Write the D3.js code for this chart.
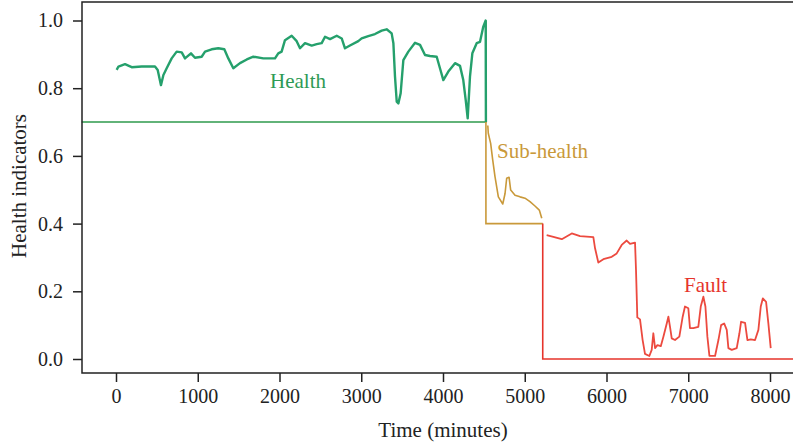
<!DOCTYPE html>
<html>
<head>
<meta charset="utf-8">
<script src="https://cdn.jsdelivr.net/npm/d3@7"></script>
<style>
  html, body { margin: 0; padding: 0; background: #fff; }
  svg { display: block; }
  text { font-family: "Liberation Serif", "Times New Roman", serif; }
</style>
</head>
<body>
<svg id="chart" width="793" height="445"></svg>
<script>
// Health indicator over time (minutes), split into three condition stages
const healthData = [
  [8,0.854],[30,0.864],[110,0.871],[192,0.862],[314,0.864],[477,0.864],[510,0.854],[550,0.809],
  [580,0.839],[620,0.859],[681,0.888],[742,0.908],[804,0.906],[844,0.888],[917,0.903],[966,0.890],
  [1048,0.893],[1089,0.908],[1170,0.915],[1251,0.918],[1325,0.915],[1374,0.888],[1435,0.859],
  [1517,0.874],[1600,0.885],[1680,0.893],[1802,0.888],[1945,0.888],[1985,0.903],[2026,0.908],
  [2067,0.942],[2149,0.955],[2210,0.939],[2251,0.918],[2312,0.933],[2394,0.926],[2455,0.930],
  [2516,0.933],[2557,0.952],[2618,0.945],[2700,0.955],[2761,0.947],[2801,0.918],[2862,0.926],
  [2964,0.939],[3005,0.947],[3086,0.954],[3168,0.960],[3250,0.970],[3311,0.974],[3372,0.962],
  [3393,0.933],[3413,0.834],[3434,0.760],[3454,0.755],[3482,0.785],[3515,0.883],[3576,0.908],
  [3658,0.934],[3719,0.928],[3780,0.898],[3841,0.895],[3923,0.893],[3963,0.859],[4004,0.824],
  [4065,0.849],[4147,0.874],[4208,0.866],[4248,0.824],[4278,0.765],[4302,0.711],[4330,0.834],
  [4359,0.903],[4412,0.933],[4453,0.937],[4493,0.982],[4522,1.0]
];
const subHealthData = [
  [4548,0.690],[4554,0.667],[4583,0.637],[4608,0.588],[4636,0.539],[4677,0.479],[4731,0.458],
  [4759,0.489],[4779,0.534],[4808,0.537],[4828,0.499],[4881,0.484],[4942,0.479],[5003,0.475],
  [5064,0.465],[5125,0.452],[5178,0.440],[5208,0.416]
];
const faultData = [
  [5268,0.366],[5350,0.361],[5453,0.354],[5575,0.371],[5676,0.363],[5839,0.360],[5860,0.327],
  [5900,0.285],[5962,0.295],[6064,0.302],[6125,0.312],[6186,0.337],[6247,0.350],[6288,0.340],
  [6349,0.344],[6361,0.262],[6377,0.123],[6410,0.117],[6442,0.056],[6471,0.015],[6524,0.009],
  [6553,0.027],[6573,0.076],[6594,0.032],[6623,0.041],[6664,0.038],[6696,0.066],[6737,0.105],
  [6757,0.125],[6777,0.095],[6798,0.061],[6838,0.056],[6891,0.066],[6932,0.125],[6960,0.155],
  [7001,0.150],[7021,0.091],[7062,0.091],[7123,0.095],[7153,0.155],[7185,0.184],[7210,0.155],
  [7234,0.066],[7259,0.009],[7328,0.009],[7369,0.056],[7402,0.100],[7439,0.105],[7471,0.086],
  [7491,0.032],[7532,0.027],[7593,0.032],[7626,0.076],[7646,0.110],[7695,0.107],[7724,0.056],
  [7765,0.058],[7817,0.056],[7858,0.086],[7887,0.155],[7912,0.179],[7952,0.169],[7980,0.105],
  [8009,0.032]
];

// Stage boundaries (stepped threshold lines)
const healthBound = [[-420,0.7],[4525,0.7],[4525,1.0]];
const subHealthBound = [[4525,0.7],[4525,0.4],[5220,0.4]];
const faultBound = [[5220,0.4],[5220,0],[8300,0]];

const xTicks = [0,1000,2000,3000,4000,5000,6000,7000,8000];
const yTicks = [0,0.2,0.4,0.6,0.8,1.0];
const stageNames = ["Health","Sub-health","Fault"];

const svg = d3.select("#chart");
const x = d3.scaleLinear().domain([0, 8000]).range([116, 770]);
const y = d3.scaleLinear().domain([0, 1]).range([359, 20.5]);

const frameL = 82, frameT = 2, frameB = 373, frameR = 793;

const line = d3.line().x(d => x(d[0])).y(d => y(d[1]));

const colors = {
  healthCurve: "#25a06c", healthBound: "#2f9a4e",
  sub: "#c9993a", fault: "#e6342b", faultCurve: "#ec4a3f"
};

// boundary lines
svg.append("path").attr("d", line(healthBound)).attr("fill","none")
  .attr("stroke", colors.healthBound).attr("stroke-width", 1.6);
svg.append("path").attr("d", line(subHealthBound)).attr("fill","none")
  .attr("stroke", colors.sub).attr("stroke-width", 1.6);
svg.append("path").attr("d", line(faultBound)).attr("fill","none")
  .attr("stroke", colors.fault).attr("stroke-width", 1.6);

// indicator curves
svg.append("path").attr("d", line(healthData.concat([[4525,0.7]]))).attr("fill","none")
  .attr("stroke", colors.healthCurve).attr("stroke-width", 2.4).attr("stroke-linejoin","round");
svg.append("path").attr("d", line(subHealthData)).attr("fill","none")
  .attr("stroke", colors.sub).attr("stroke-width", 1.6).attr("stroke-linejoin","round");
svg.append("path").attr("d", line(faultData)).attr("fill","none")
  .attr("stroke", colors.faultCurve).attr("stroke-width", 1.8).attr("stroke-linejoin","round");

// frame
svg.append("path")
  .attr("d", `M${frameR},${frameT}H${frameL}V${frameB}H${frameR}`)
  .attr("fill","none").attr("stroke","#222").attr("stroke-width",1.5);

// axes
const xAxis = d3.axisBottom(x).tickValues(xTicks).tickSize(9).tickPadding(7)
  .tickFormat(d3.format("d"));
const gx = svg.append("g").attr("transform", `translate(0,${frameB})`).call(xAxis);
gx.select(".domain").remove();
gx.selectAll(".tick line").attr("stroke","#222").attr("stroke-width",1.5);
gx.selectAll(".tick text").attr("font-size", 20).attr("fill","#222")
  .style("font-family","'Liberation Serif', serif");

const yAxis = d3.axisLeft(y).tickValues(yTicks).tickSize(9).tickPadding(10)
  .tickFormat(d3.format(".1f"));
const gy = svg.append("g").attr("transform", `translate(${frameL},0)`).call(yAxis);
gy.select(".domain").remove();
gy.selectAll(".tick line").attr("stroke","#222").attr("stroke-width",1.5);
gy.selectAll(".tick text").attr("font-size", 20).attr("fill","#222")
  .style("font-family","'Liberation Serif', serif");

// axis titles
svg.append("text").attr("x", 443).attr("y", 437).attr("text-anchor","middle")
  .attr("font-size", 21).attr("fill","#222").text("Time (minutes)");
svg.append("text").attr("transform","translate(26,186) rotate(-90)")
  .attr("text-anchor","middle").attr("font-size", 21).attr("fill","#222")
  .text("Health indicators");

// stage labels
svg.append("text").attr("x", 298).attr("y", 88).attr("text-anchor","middle")
  .attr("font-size", 21).attr("fill", "#2e9a55").text(stageNames[0]);
svg.append("text").attr("x", 497).attr("y", 158)
  .attr("font-size", 21).attr("fill", colors.sub).text(stageNames[1]);
svg.append("text").attr("x", 684).attr("y", 292)
  .attr("font-size", 21).attr("fill", colors.fault).text(stageNames[2]);
</script>
</body>
</html>
